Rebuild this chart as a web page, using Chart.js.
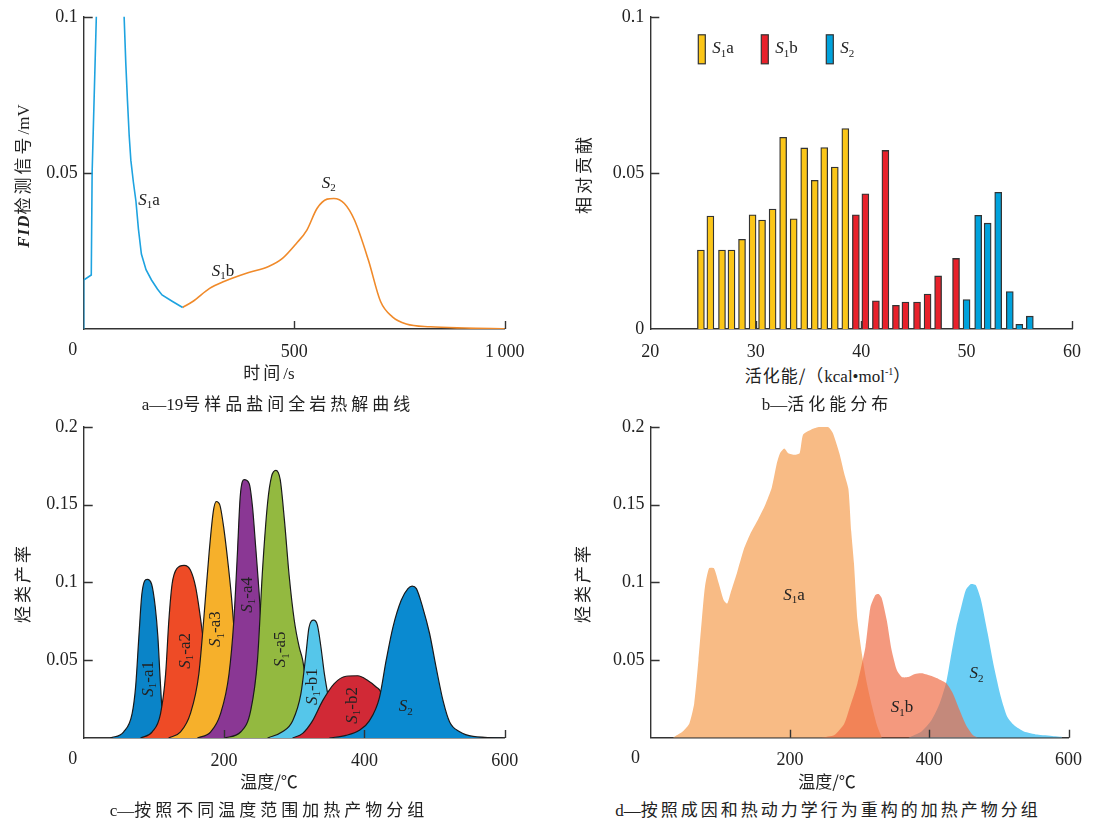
<!DOCTYPE html>
<html>
<head>
<meta charset="utf-8">
<script src="https://cdn.jsdelivr.net/npm/chart.js@4.4.1/dist/chart.umd.min.js"></script>
<style>
body{margin:0;background:#fff;width:1094px;height:823px;position:relative;overflow:hidden;font-family:"Noto Sans CJK SC",sans-serif;color:#222}
canvas{position:absolute}
.t{position:absolute;white-space:nowrap;font-size:17px;letter-spacing:3px;transform:translate(-50%,-50%)}
.r{transform:translate(-50%,-50%) rotate(-90deg)}
.s{font-family:"Liberation Serif",serif;letter-spacing:0}
.cap{letter-spacing:4px}
</style>
</head>
<body>
<canvas id="ca"></canvas>
<canvas id="cb"></canvas>
<canvas id="cc"></canvas>
<canvas id="cd"></canvas>

<div class="t r" style="left:21px;top:176px"><span class="s" style="font-style:italic;font-weight:bold;letter-spacing:1px">FID</span>检测信号<span class="s">/mV</span></div>
<div class="t" style="left:269px;top:371px">时间<span class="s">/s</span></div>
<div class="t cap" style="left:278px;top:402px"><span class="s">a—19</span>号样品盐间全岩热解曲线</div>

<div class="t r" style="left:582px;top:174px">相对贡献</div>
<div class="t" style="left:828px;top:374px;letter-spacing:1px">活化能/（<span class="s">kcal•mol<sup style="font-size:10px">-1</sup></span>）</div>
<div class="t cap" style="left:827px;top:402px"><span class="s">b—</span>活化能分布</div>

<div class="t r" style="left:21px;top:583px">烃类产率</div>
<div class="t" style="left:269px;top:780px;letter-spacing:0">温度/℃</div>
<div class="t cap" style="left:269px;top:808px"><span class="s">c—</span>按照不同温度范围加热产物分组</div>

<div class="t r" style="left:581px;top:583px">烃类产率</div>
<div class="t" style="left:827px;top:780px;letter-spacing:0">温度/℃</div>
<div class="t cap" style="left:828px;top:808px;letter-spacing:3px"><span class="s">d—</span>按照成因和热动力学行为重构的加热产物分组</div>

<script>
// ---- a: 全岩热解曲线 ----
const aS1aT = [0, 0, 18, 20, 30, 40, 60, 85, 96, 100, 104, 108, 112, 118, 124, 130, 137, 148, 161, 175, 186, 210, 235];
const aS1aY = [0, 0.0157, 0.0173, 0.05, 0.1, 0.3, 0.5, 0.3, 0.1, 0.085, 0.073, 0.062, 0.054, 0.047, 0.041, 0.032, 0.024, 0.019, 0.0157, 0.0128, 0.0109, 0.0089, 0.0069];
const aS2T = [235, 259, 299, 333, 390, 439, 472, 505, 530, 554, 578, 594, 619, 643, 676, 705, 733, 766, 823, 905, 1000];
const aS2Y = [0.0069, 0.0088, 0.013, 0.0152, 0.018, 0.020, 0.0226, 0.0274, 0.0317, 0.0386, 0.0416, 0.0418, 0.0402, 0.0349, 0.0221, 0.0088, 0.0039, 0.0016, 0.0007, 0.0003, 0.0001];

// ---- b: 活化能分布 ----
const bS1aE = [24.8, 25.7, 26.8, 27.7, 28.7, 29.7, 30.6, 31.6, 32.6, 33.6, 34.6, 35.6, 36.5, 37.5, 38.5];
const bS1aV = [0.0253, 0.0362, 0.0253, 0.0253, 0.0287, 0.0366, 0.0349, 0.0384, 0.0614, 0.0353, 0.058, 0.0476, 0.0581, 0.0519, 0.0642];
const bS1bE = [39.5, 40.4, 41.4, 42.3, 43.3, 44.2, 45.3, 46.3, 47.3, 49.0];
const bS1bV = [0.0366, 0.0433, 0.009, 0.0572, 0.0076, 0.0086, 0.0086, 0.0112, 0.017, 0.0226];
const bS2E = [50.0, 51.1, 52.0, 53.0, 54.1, 55.0, 56.0];
const bS2V = [0.0094, 0.0364, 0.0339, 0.0438, 0.012, 0.0015, 0.0041];

// ---- c: 按温度范围分组 ----
const cA1T = [38, 57, 69, 74, 78.6, 83, 90.5, 96.7, 102, 105.7, 108.6, 112, 116.7, 124];
const cA1Y = [0, 0.004, 0.0157, 0.033, 0.065, 0.093, 0.102, 0.099, 0.084, 0.065, 0.041, 0.0157, 0.003, 0];
const cA2T = [81, 97.6, 109.5, 116.7, 121.4, 126, 133, 143, 152, 159.5, 166.7, 171.4, 176, 181, 188, 195];
const cA2Y = [0, 0.004, 0.0157, 0.041, 0.076, 0.099, 0.109, 0.111, 0.108, 0.097, 0.076, 0.0585, 0.037, 0.0157, 0.003, 0];
const cA3T = [121, 138, 152, 164, 171, 178.6, 184.8, 189, 193.8, 200, 205.7, 210.5, 216.7, 221, 228.6, 233];
const cA3Y = [0, 0.004, 0.0157, 0.041, 0.076, 0.1186, 0.146, 0.152, 0.150, 0.1336, 0.112, 0.0907, 0.054, 0.022, 0.003, 0];
const cA4T = [162, 181, 195, 207, 214, 219, 223, 228.6, 235.7, 240.5, 245, 250, 254.8, 259.5, 266.7, 273.8];
const cA4Y = [0, 0.004, 0.0157, 0.041, 0.076, 0.1186, 0.155, 0.166, 0.1636, 0.1486, 0.123, 0.093, 0.0585, 0.0285, 0.007, 0];
const cA5T = [200, 224, 238, 247.6, 254.8, 262, 267.6, 273.8, 280, 286, 292.9, 300, 307, 312, 319, 326, 335.7, 343];
const cA5Y = [0, 0.004, 0.0178, 0.05, 0.108, 0.151, 0.168, 0.172, 0.166, 0.14, 0.1036, 0.0757, 0.0585, 0.05, 0.0285, 0.011, 0.0017, 0];
const cB1T = [262, 283, 297.6, 309.5, 316.7, 321, 327.6, 333, 338, 343, 347.6, 352, 359.5, 366.7];
const cB1Y = [0, 0.004, 0.011, 0.0285, 0.054, 0.071, 0.0757, 0.0725, 0.0585, 0.041, 0.0285, 0.0157, 0.005, 0];
const cB2T = [297.6, 312, 326, 340.5, 357, 373.8, 390.5, 404.8, 416.7, 424, 428, 431, 436];
const cB2Y = [0, 0.003, 0.011, 0.024, 0.035, 0.0397, 0.040, 0.037, 0.0328, 0.0285, 0.018, 0.006, 0];
const cS2T = [350, 373.8, 392.9, 407, 421.4, 431, 440.5, 452.4, 462, 468, 474, 483, 492.9, 502, 512, 521.4, 535.7, 554.8, 597];
const cS2Y = [0, 0.0017, 0.005, 0.011, 0.026, 0.05, 0.071, 0.0885, 0.096, 0.0976, 0.096, 0.084, 0.067, 0.0457, 0.024, 0.0103, 0.004, 0.001, 0];

// ---- d: 按成因重构 ----
const dS1aT = [31.8, 46, 55.5, 62.6, 68.7, 73.5, 78, 83.9, 91, 98, 105, 110, 114.7, 124, 133.7, 143, 155, 164.5, 174, 181, 185.8, 192, 197.6, 207, 214, 219, 230.8, 242.7, 254.5, 261.6, 271, 278, 284, 288, 292, 297, 303, 310, 318, 325, 332];
const dS1aY = [0, 0.004, 0.009, 0.022, 0.05, 0.0757, 0.097, 0.109, 0.109, 0.099, 0.0885, 0.0864, 0.093, 0.106, 0.121, 0.131, 0.141, 0.1497, 0.161, 0.176, 0.183, 0.186, 0.183, 0.182, 0.183, 0.195, 0.1983, 0.2, 0.2, 0.196, 0.183, 0.170, 0.160, 0.133, 0.112, 0.0757, 0.055, 0.036, 0.02, 0.008, 0];
const dS1bT = [245, 264, 278, 284.8, 297, 308.5, 315.6, 322.7, 327.5, 332, 339, 346, 353.5, 360.7, 370, 379.6, 389, 401, 412.8, 424.6, 434, 443.6, 453, 462.6, 469.7];
const dS1bY = [0, 0.0017, 0.009, 0.0178, 0.035, 0.0585, 0.084, 0.0918, 0.0924, 0.0896, 0.0757, 0.0564, 0.0435, 0.039, 0.039, 0.041, 0.0414, 0.040, 0.038, 0.035, 0.0285, 0.0178, 0.008, 0.0017, 0];
const dS2T = [370, 389, 403, 415, 424.6, 431.8, 439, 446, 452.6, 460, 467, 474.4, 484, 493, 503, 512, 522, 536, 555, 578.7, 590, 591];
const dS2Y = [0, 0.004, 0.011, 0.022, 0.036, 0.054, 0.0714, 0.084, 0.095, 0.0988, 0.098, 0.0885, 0.067, 0.0457, 0.026, 0.0135, 0.008, 0.004, 0.002, 0.001, 0.0006, 0];

const SERIF = '"Liberation Serif", "Times New Roman", serif';
const pts = (xs, ys) => xs.map((x, i) => ({x: x, y: ys[i]}));
const S = (sub, rest) => [['S', 'i'], [sub, 'sub'], [rest || '', 'n']];

// 文字：斜体S + 下标
function rich(ctx, parts, cx, cy, rot, left) {
  const fonts = {i: 'italic 17px ' + SERIF, n: '17px ' + SERIF, sub: '11px ' + SERIF};
  let w = 0;
  parts.forEach(p => { ctx.font = fonts[p[1]]; w += ctx.measureText(p[0]).width; });
  ctx.save();
  ctx.translate(cx, cy);
  if (rot) ctx.rotate(-Math.PI / 2);
  ctx.textBaseline = 'middle';
  ctx.textAlign = 'left';
  ctx.fillStyle = '#222';
  let x = left ? 0 : -w / 2;
  parts.forEach(p => {
    ctx.font = fonts[p[1]];
    ctx.fillText(p[0], x, p[1] == 'sub' ? 5 : 0);
    x += ctx.measureText(p[0]).width;
  });
  ctx.restore();
}

function drawTicks(chart) {
  const {ctx, chartArea: a, scales: {x, y}} = chart;
  ctx.save();
  ctx.strokeStyle = '#333';
  ctx.lineWidth = 1.4;
  ctx.beginPath();
  x.ticks.forEach(t => {
    if (t.value <= x.min) return;
    const px = Math.round(x.getPixelForValue(t.value)) + 0.5;
    ctx.moveTo(px, a.bottom); ctx.lineTo(px, a.bottom - 8);
  });
  y.ticks.forEach(t => {
    if (t.value <= y.min) return;
    const py = Math.round(y.getPixelForValue(t.value)) + 0.5;
    ctx.moveTo(a.left, py); ctx.lineTo(a.left + 9, py);
  });
  ctx.stroke();
  ctx.restore();
}

const decor = {
  id: 'decor',
  beforeDatasetsDraw(chart, args, o) { if (!o.ticksOnTop) drawTicks(chart); },
  afterDatasetsDraw(chart, args, o) {
    if (o.ticksOnTop) drawTicks(chart);
    const {ctx, chartArea: a, scales: {x, y}} = chart;
    if (o.zero) {
      ctx.save();
      ctx.font = '18px ' + SERIF;
      ctx.fillStyle = '#222';
      ctx.textAlign = 'center';
      ctx.textBaseline = 'top';
      ctx.fillText('0', a.left - o.zero, a.bottom + 12);
      ctx.restore();
    }
    (o.notes || []).forEach(n => rich(ctx, n.t, x.getPixelForValue(n.x), y.getPixelForValue(n.y), n.rot));
    (o.legend || []).forEach(l => {
      ctx.save();
      ctx.fillStyle = l.color;
      ctx.strokeStyle = '#333';
      ctx.lineWidth = 1.2;
      ctx.fillRect(a.left + l.dx, a.top + 18, 7, 29);
      ctx.strokeRect(a.left + l.dx, a.top + 18, 7, 29);
      ctx.restore();
      rich(ctx, l.t, a.left + l.dx + 14, a.top + 32, false, true);
    });
  }
};

const num = v => String(Math.round(v * 100) / 100);

function makeChart(id, box, area, type, datasets, sx, sy, deco) {
  const cv = document.getElementById(id);
  cv.width = box.w; cv.height = box.h;
  cv.style.left = box.l + 'px'; cv.style.top = box.t + 'px';
  const axis = (o, fit) => ({
    type: 'linear', min: o.min, max: o.max, offset: false,
    grid: {display: false, drawTicks: false, offset: false},
    border: {display: true, color: '#333', width: 1.4},
    ticks: {stepSize: o.step, padding: o.pad, color: '#222', font: {family: SERIF, size: 18},
      autoSkip: false, maxRotation: 0, callback: o.cb},
    afterFit: fit
  });
  return new Chart(cv, {
    type: type,
    data: {datasets: datasets},
    options: {
      responsive: false, animation: false, events: [],
      layout: {padding: {left: 0, top: area.top, right: box.w - area.right, bottom: 0}},
      plugins: {legend: {display: false}, tooltip: {enabled: false}, decor: deco},
      scales: {
        x: axis(sx, s => { s.height = box.h - area.bottom; }),
        y: axis(sy, s => { s.width = area.left; })
      }
    },
    plugins: [decor]
  });
}

const line = (xs, ys, color, extra) => Object.assign({
  data: pts(xs, ys), borderColor: color, borderWidth: 1.6, pointRadius: 0,
  cubicInterpolationMode: 'monotone', fill: false
}, extra || {});

// a
makeChart('ca', {l: 0, t: 0, w: 547, h: 360}, {left: 83.7, right: 504.8, top: 16.7, bottom: 329}, 'line', [
  line(aS1aT, aS1aY, '#1EA3E0', {cubicInterpolationMode: 'default', tension: 0}),
  line(aS2T, aS2Y, '#F08A2A')
], {min: 0, max: 1000, step: 500, pad: 12, cb: v => v === 0 ? '' : (v === 1000 ? '1\u2009000' : num(v))},
   {min: 0, max: 0.1, step: 0.05, pad: 6, cb: v => v === 0 ? '' : num(v)},
   {zero: 11, notes: [
     {x: 155, y: 0.0413, t: S('1', 'a')},
     {x: 331, y: 0.0184, t: S('1', 'b')},
     {x: 582, y: 0.0466, t: S('2')}
   ]});

// b
const bar = (xs, ys, color) => ({
  data: pts(xs, ys), backgroundColor: color, borderColor: '#333', borderWidth: 1.3,
  barThickness: 7, grouped: false
});
makeChart('cb', {l: 547, t: 0, w: 547, h: 360}, {left: 103.3, right: 525, top: 16.7, bottom: 329}, 'bar', [
  bar(bS1aE, bS1aV, '#FBC618'),
  bar(bS1bE, bS1bV, '#E8212B'),
  bar(bS2E, bS2V, '#00A2DC')
], {min: 20, max: 60, step: 10, pad: 12, cb: v => num(v)},
   {min: 0, max: 0.1, step: 0.05, pad: 6, cb: v => num(v)},
   {legend: [
     {dx: 48, color: '#FBC618', t: S('1', 'a')},
     {dx: 111, color: '#E8212B', t: S('1', 'b')},
     {dx: 176, color: '#00A2DC', t: S('2')}
   ]});

// c
const area = (xs, ys, color, order) => line(xs, ys, '#1a1a1a', {fill: 'origin', backgroundColor: color, borderWidth: 1.2, order: order});
makeChart('cc', {l: 0, t: 410, w: 547, h: 360}, {left: 83.7, right: 504.8, top: 16.7, bottom: 328}, 'line', [
  area(cA1T, cA1Y, '#0A84C8', 8),
  area(cA2T, cA2Y, '#EE4B26', 7),
  area(cA3T, cA3Y, '#F6B02B', 6),
  area(cA4T, cA4Y, '#8A3794', 5),
  area(cA5T, cA5Y, '#93B940', 4),
  area(cB1T, cB1Y, '#55C6EA', 3),
  area(cB2T, cB2Y, '#D12936', 2),
  area(cS2T, cS2Y, '#0A8AD0', 1)
], {min: 0, max: 600, step: 200, pad: 12, cb: v => v === 0 ? '' : num(v)},
   {min: 0, max: 0.2, step: 0.05, pad: 6, cb: v => v === 0 ? '' : num(v)},
   {zero: 11, ticksOnTop: true, notes: [
     {x: 92, y: 0.038, t: S('1', '-a1'), rot: true},
     {x: 145, y: 0.056, t: S('1', '-a2'), rot: true},
     {x: 188, y: 0.070, t: S('1', '-a3'), rot: true},
     {x: 233, y: 0.092, t: S('1', '-a4'), rot: true},
     {x: 281, y: 0.057, t: S('1', '-a5'), rot: true},
     {x: 326, y: 0.033, t: S('1', '-b1'), rot: true},
     {x: 383, y: 0.021, t: S('1', '-b2'), rot: true},
     {x: 459, y: 0.020, t: S('2')}
   ]});

// d
const soft = (xs, ys, color, order) => line(xs, ys, color, {fill: 'origin', backgroundColor: color, borderWidth: 0, order: order, cubicInterpolationMode: 'default', tension: 0.2});
makeChart('cd', {l: 547, t: 410, w: 547, h: 360}, {left: 103.6, right: 525, top: 16, bottom: 327.7}, 'line', [
  soft(dS1aT, dS1aY, '#F8BB85', 2),
  soft(dS2T, dS2Y, '#6ACDF4', 1),
  soft(dS1bT, dS1bY, 'rgba(239,105,65,0.68)', 0)
], {min: 0, max: 600, step: 200, pad: 12, cb: v => v === 0 ? '' : num(v)},
   {min: 0, max: 0.2, step: 0.05, pad: 6, cb: v => v === 0 ? '' : num(v)},
   {zero: 15, ticksOnTop: true, notes: [
     {x: 206, y: 0.0915, t: S('1', 'a')},
     {x: 361, y: 0.0192, t: S('1', 'b')},
     {x: 468, y: 0.041, t: S('2')}
   ]});
</script>
</body>
</html>
